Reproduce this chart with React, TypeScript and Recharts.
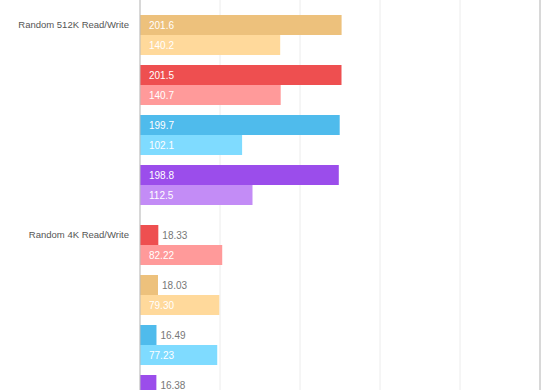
import { BarChart, Bar, XAxis, YAxis, CartesianGrid, Cell, LabelList, ReferenceLine } from "recharts";

const groupLabels = ["Random 512K Read/Write", "Random 4K Read/Write"];

const read512K = [201.6, 201.5, 199.7, 198.8];
const write512K = [140.2, 140.7, 102.1, 112.5];
const colors512K = ["orange", "red", "blue", "purple"];

const read4K = [18.33, 18.03, 16.49, 16.38];
const write4K = [82.22, 79.3, 77.23, null];
const colors4K = ["red", "orange", "blue", "purple"];

const xTicks = [0, 80, 160, 240, 320, 400];

const PALETTE: Record<string, { dark: string; light: string }> = {
  orange: { dark: "#EDC17C", light: "#FFD99B" },
  red: { dark: "#EE4F50", light: "#FF9A9A" },
  blue: { dark: "#4FBBEC", light: "#7FDBFF" },
  purple: { dark: "#9B4DEB", light: "#C38CF6" },
};

const FONT = "'Liberation Sans', Arial, Helvetica, sans-serif";
const AXIS_COLOR = "#bbb";

interface GroupChartProps {
  label: string;
  reads: number[];
  writes: (number | null)[];
  colors: string[];
  decimals: number;
  height: number;
  padTop: number;
  padBottom: number;
}

function GroupChart({ label, reads, writes, colors, decimals, height, padTop, padBottom }: GroupChartProps) {
  const rows = reads.map((r, i) => ({
    id: `${label}-${i}`,
    read: r,
    write: writes[i],
    color: colors[i],
  }));

  const renderValue = (props: any) => {
    const { x, y, width, height: h, value } = props;
    if (value == null) return null;
    const inside = Number(width) > 40;
    return (
      <text
        x={inside ? Number(x) + 9 : Number(x) + Number(width) + 4}
        y={Number(y) + Number(h) / 2}
        dy="0.36em"
        fill={inside ? "#fff" : "#777"}
        fontSize={10}
        fontFamily={FONT}
      >
        {Number(value).toFixed(decimals)}
      </text>
    );
  };

  const renderTick = (props: any) => {
    const { x, y, index } = props;
    if (index !== 0) return <g />;
    return (
      <text x={x} y={Number(y) - 10} dy="0.36em" textAnchor="end" fill="#555" fontSize={9.5} fontFamily={FONT}>
        {label}
      </text>
    );
  };

  return (
    <BarChart
      width={560}
      height={height}
      data={rows}
      layout="vertical"
      margin={{ top: 0, right: 20, bottom: 0, left: 0 }}
      barSize={20}
      barGap={0}
    >
      <CartesianGrid horizontal={false} stroke="#ececec" />
      <XAxis type="number" domain={[0, 400]} ticks={xTicks} hide />
      <YAxis
        type="category"
        dataKey="id"
        width={140}
        axisLine={{ stroke: AXIS_COLOR }}
        tickLine={false}
        tickSize={0}
        tickMargin={11}
        tick={renderTick}
        padding={{ top: padTop, bottom: padBottom }}
      />
      <ReferenceLine x={400} stroke={AXIS_COLOR} />
      <Bar dataKey="read" isAnimationActive={false}>
        {rows.map((r) => (
          <Cell key={r.id} fill={PALETTE[r.color].dark} />
        ))}
        <LabelList dataKey="read" content={renderValue} />
      </Bar>
      <Bar dataKey="write" isAnimationActive={false}>
        {rows.map((r) => (
          <Cell key={r.id} fill={PALETTE[r.color].light} />
        ))}
        <LabelList dataKey="write" content={renderValue} />
      </Bar>
    </BarChart>
  );
}

export default function App() {
  return (
    <div
      style={{
        position: "absolute",
        left: 0,
        top: 0,
        width: 560,
        height: 390,
        overflow: "hidden",
        background: "#fff",
      }}
    >
      <GroupChart
        label={groupLabels[0]}
        reads={read512K}
        writes={write512K}
        colors={colors512K}
        decimals={1}
        height={215}
        padTop={10}
        padBottom={5}
      />
      <GroupChart
        label={groupLabels[1]}
        reads={read4K}
        writes={write4K}
        colors={colors4K}
        decimals={2}
        height={210}
        padTop={5}
        padBottom={5}
      />
    </div>
  );
}
